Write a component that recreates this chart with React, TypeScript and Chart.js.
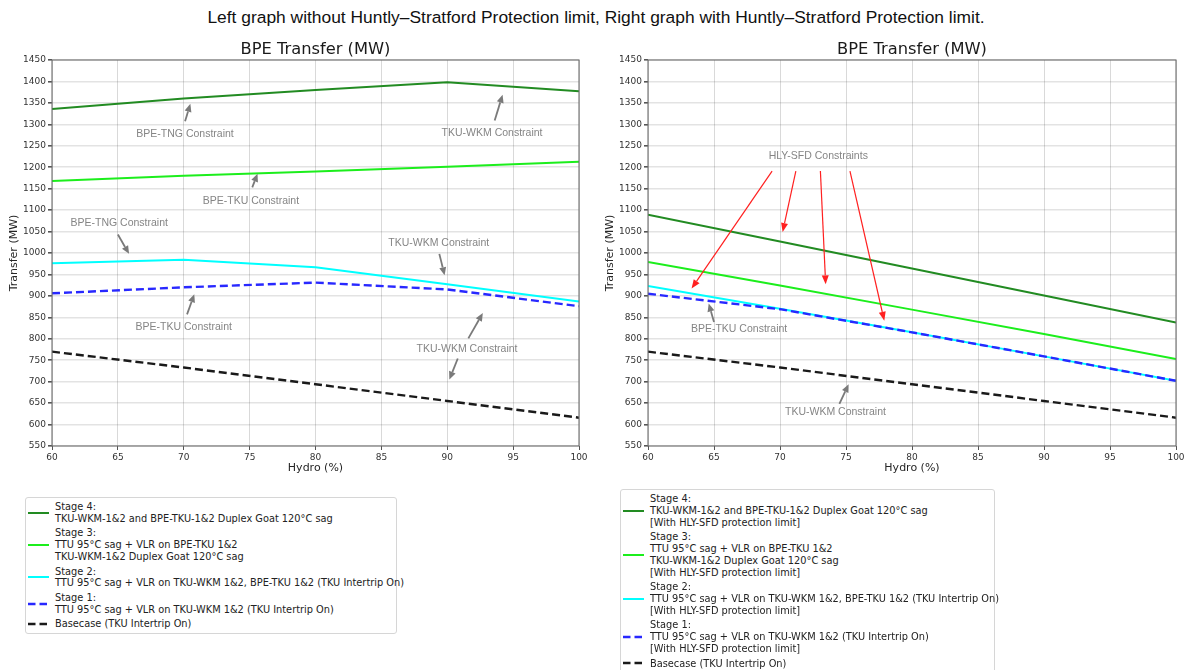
import React, { useEffect, useRef } from 'react';
import { Chart, registerables } from 'chart.js';
Chart.register(...registerables);

const pageTitle =
  'Left graph without Huntly–Stratford Protection limit, Right graph with Huntly–Stratford Protection limit.';
const chartTitle = 'BPE Transfer (MW)';
const xTitle = 'Hydro (%)';
const yTitle = 'Transfer (MW)';

const hydro = [60, 70, 80, 90, 100];
const leftStage4 = [1336, 1360, 1380, 1398, 1377];
const leftStage3 = [1168, 1180, 1190, 1201, 1213];
const leftStage2 = [976, 984, 967, 927, 887];
const leftStage1 = [906, 920, 931, 915, 876];
const leftBasecase = [770, 733, 694, 655, 616];
const rightStage4 = [1089, 1027, 964, 901, 838];
const rightStage3 = [979, 924, 868, 811, 753];
const rightStage2 = [923, 870, 815, 759, 702];
const rightStage1 = [905, 869, 815, 759, 702];
const rightBasecase = [770, 733, 694, 655, 616];

const xMin = 60;
const xMax = 100;
const xStep = 5;
const yMin = 550;
const yMax = 1450;
const yStep = 50;

// series order: Basecase, Stage 1, Stage 2, Stage 3, Stage 4
const seriesNames = ['Basecase', 'Stage 1', 'Stage 2', 'Stage 3', 'Stage 4'];
const seriesColors = ['#1a1a1a', '#2828ff', '#00ffff', '#1cee1c', '#228b22'];
const seriesDashed = [true, true, false, false, false];

const leftLegendLabels = [
  ['Stage 4:', 'TKU-WKM-1&2 and BPE-TKU-1&2 Duplex Goat 120°C sag'],
  ['Stage 3:', 'TTU 95°C sag + VLR on BPE-TKU 1&2', 'TKU-WKM-1&2 Duplex Goat 120°C sag'],
  ['Stage 2:', 'TTU 95°C sag + VLR on TKU-WKM 1&2, BPE-TKU 1&2 (TKU Intertrip On)'],
  ['Stage 1:', 'TTU 95°C sag + VLR on TKU-WKM 1&2 (TKU Intertrip On)'],
  ['Basecase (TKU Intertrip On)'],
];
const rightLegendLabels = [
  ['Stage 4:', 'TKU-WKM-1&2 and BPE-TKU-1&2 Duplex Goat 120°C sag', '[With HLY-SFD protection limit]'],
  ['Stage 3:', 'TTU 95°C sag + VLR on BPE-TKU 1&2', 'TKU-WKM-1&2 Duplex Goat 120°C sag', '[With HLY-SFD protection limit]'],
  ['Stage 2:', 'TTU 95°C sag + VLR on TKU-WKM 1&2, BPE-TKU 1&2 (TKU Intertrip On)', '[With HLY-SFD protection limit]'],
  ['Stage 1:', 'TTU 95°C sag + VLR on TKU-WKM 1&2 (TKU Intertrip On)', '[With HLY-SFD protection limit]'],
  ['Basecase (TKU Intertrip On)'],
];
const legendSeriesIndex = [4, 3, 2, 1, 0];

// annotations (data coordinates): text, x, y
const leftNoteTexts = [
  'BPE-TNG Constraint',
  'TKU-WKM Constraint',
  'BPE-TKU Constraint',
  'BPE-TNG Constraint',
  'TKU-WKM Constraint',
  'BPE-TKU Constraint',
  'TKU-WKM Constraint',
];
const leftNoteX = [70.1, 93.4, 75.1, 65.1, 89.35, 70.0, 91.5];
const leftNoteY = [1278, 1280, 1122, 1070, 1022, 828, 776];
// arrows: [fromX, fromY, toX, toY]
const leftGrayArrows = [
  [70.1, 1307, 70.5, 1348],
  [93.6, 1309, 94.2, 1369],
  [75.2, 1153, 75.6, 1185],
  [65.0, 1043, 65.85, 998],
  [89.4, 998, 89.8, 948],
  [70.25, 857, 70.8, 904],
  [91.6, 801, 92.7, 860],
  [90.8, 754, 90.16, 705],
];
const rightNoteTexts = ['HLY-SFD Constraints', 'BPE-TKU Constraint', 'TKU-WKM Constraint'];
const rightNoteX = [72.9, 66.9, 74.2];
const rightNoteY = [1225, 822, 628];
const rightGrayArrows = [
  [65.0, 839, 64.6, 882],
  [74.5, 648, 75.2, 694],
];
const rightRedArrows = [
  [69.4, 1191, 63.3, 917],
  [71.2, 1191, 70.2, 1049],
  [73.06, 1191, 73.46, 927],
  [75.3, 1191, 77.9, 842],
];

type Arrow = number[];

function drawArrow(ctx: CanvasRenderingContext2D, x1: number, y1: number, x2: number, y2: number, color: string, shaft: number, headL: number, headW: number) {
  const dx = x2 - x1;
  const dy = y2 - y1;
  const len = Math.hypot(dx, dy);
  const ux = dx / len;
  const uy = dy / len;
  const bx = x2 - ux * headL;
  const by = y2 - uy * headL;
  ctx.strokeStyle = color;
  ctx.fillStyle = color;
  ctx.lineWidth = shaft;
  ctx.beginPath();
  ctx.moveTo(x1, y1);
  ctx.lineTo(bx, by);
  ctx.stroke();
  ctx.beginPath();
  ctx.moveTo(x2, y2);
  ctx.lineTo(bx - uy * headW / 2, by + ux * headW / 2);
  ctx.lineTo(bx + uy * headW / 2, by - ux * headW / 2);
  ctx.closePath();
  ctx.fill();
}

function makeOverlay(noteTexts: string[], noteX: number[], noteY: number[], grayArrows: Arrow[], redArrows: Arrow[]) {
  return {
    id: 'overlay',
    afterDatasetsDraw(chart: any) {
      const { ctx, chartArea: a, scales } = chart;
      const sx = scales.x;
      const sy = scales.y;
      ctx.save();
      // frame
      ctx.strokeStyle = '#6e6e6e';
      ctx.lineWidth = 1.1;
      ctx.strokeRect(a.left, a.top, a.right - a.left, a.bottom - a.top);
      // title
      ctx.fillStyle = '#1a1a1a';
      ctx.font = '16.3px "DejaVu Sans"';
      ctx.textAlign = 'center';
      ctx.textBaseline = 'middle';
      ctx.fillText(chartTitle, (a.left + a.right) / 2, a.top - 10);
      // arrows
      for (const r of redArrows) {
        drawArrow(ctx, sx.getPixelForValue(r[0]), sy.getPixelForValue(r[1]), sx.getPixelForValue(r[2]), sy.getPixelForValue(r[3]), '#ff2020', 1.2, 9, 7);
      }
      for (const g of grayArrows) {
        drawArrow(ctx, sx.getPixelForValue(g[0]), sy.getPixelForValue(g[1]), sx.getPixelForValue(g[2]), sy.getPixelForValue(g[3]), '#7a7a7a', 1.8, 8, 7);
      }
      // notes
      ctx.fillStyle = '#858585';
      ctx.font = '10.5px "Liberation Sans"';
      ctx.textAlign = 'center';
      ctx.textBaseline = 'middle';
      noteTexts.forEach((t, i) => {
        ctx.fillText(t, sx.getPixelForValue(noteX[i]), sy.getPixelForValue(noteY[i]));
      });
      ctx.restore();
    },
  };
}

function buildDatasets(series: number[][]) {
  return series.map((vals, i) => ({
    label: seriesNames[i],
    data: hydro.map((h, k) => ({ x: h, y: vals[k] })),
    borderColor: seriesColors[i],
    backgroundColor: seriesColors[i],
    borderWidth: seriesDashed[i] ? 2.4 : 2,
    borderDash: seriesDashed[i] ? [8, 4] : [],
    pointRadius: 0,
    tension: 0,
    fill: false,
  }));
}

function buildOptions(padRight: number) {
  const tickFont = { family: 'DejaVu Sans', size: 9 };
  const titleFont = { family: 'DejaVu Sans', size: 11 };
  return {
    responsive: false,
    animation: false as const,
    devicePixelRatio: 1,
    layout: { padding: { top: 30, right: padRight, left: 0, bottom: 0 } },
    plugins: { legend: { display: false }, tooltip: { enabled: false }, title: { display: false } },
    scales: {
      x: {
        type: 'linear' as const,
        min: xMin,
        max: xMax,
        ticks: { stepSize: xStep, font: tickFont, color: '#333', padding: 2, maxRotation: 0, autoSkip: false, callback: (v: any) => String(v) },
        grid: { color: 'rgba(0,0,0,0.15)', lineWidth: 1, tickLength: 4, tickColor: '#555' },
        border: { display: false },
        title: { display: true, text: xTitle, font: titleFont, color: '#262626', padding: { top: 0, bottom: 15 } },
        afterFit: (s: any) => {
          s.height = 44;
        },
      },
      y: {
        type: 'linear' as const,
        min: yMin,
        max: yMax,
        ticks: { stepSize: yStep, font: tickFont, color: '#333', padding: 2, autoSkip: false, callback: (v: any) => String(v) },
        grid: { color: 'rgba(0,0,0,0.11)', lineWidth: 1.6, tickLength: 4, tickColor: '#555' },
        border: { display: false },
        title: { display: true, text: yTitle, font: titleFont, color: '#262626', padding: { top: 7.5, bottom: 0 } },
        afterFit: (s: any) => {
          s.width = 52;
        },
      },
    },
  };
}

function Legend({ left, top, width, labels }: { left: number; top: number; width: number; labels: string[][] }) {
  return (
    <div
      style={{
        position: 'absolute',
        left,
        top,
        width,
        boxSizing: 'border-box',
        border: '1px solid #d6d6d6',
        borderRadius: 3,
        background: '#fff',
        padding: '3px 0 3px 2px',
        fontFamily: '"DejaVu Sans"',
        fontSize: 9.8,
        lineHeight: '11.8px',
        color: '#222',
      }}
    >
      {labels.map((lines, i) => {
        const si = legendSeriesIndex[i];
        const dashed = seriesDashed[si];
        return (
          <div key={i} style={{ display: 'flex', alignItems: 'center', marginBottom: i < labels.length - 1 ? 2.8 : 0 }}>
            <svg width={21} height={4} style={{ flex: '0 0 21px' }}>
              <line
                x1={0}
                y1={2}
                x2={21}
                y2={2}
                stroke={seriesColors[si]}
                strokeWidth={dashed ? 2.4 : 2}
                strokeDasharray={dashed ? '7.5,4' : undefined}
              />
            </svg>
            <div style={{ marginLeft: 6, whiteSpace: 'nowrap' }}>
              {lines.map((l, k) => (
                <div key={k}>{l}</div>
              ))}
            </div>
          </div>
        );
      })}
    </div>
  );
}

export default function App() {
  const leftRef = useRef<HTMLCanvasElement>(null);
  const rightRef = useRef<HTMLCanvasElement>(null);

  useEffect(() => {
    const c1 = new Chart(leftRef.current as HTMLCanvasElement, {
      type: 'line',
      data: { datasets: buildDatasets([leftBasecase, leftStage1, leftStage2, leftStage3, leftStage4]) as any },
      options: buildOptions(17) as any,
      plugins: [makeOverlay(leftNoteTexts, leftNoteX, leftNoteY, leftGrayArrows, [])],
    });
    const c2 = new Chart(rightRef.current as HTMLCanvasElement, {
      type: 'line',
      data: { datasets: buildDatasets([rightBasecase, rightStage1, rightStage2, rightStage3, rightStage4]) as any },
      options: buildOptions(16) as any,
      plugins: [makeOverlay(rightNoteTexts, rightNoteX, rightNoteY, rightGrayArrows, rightRedArrows)],
    });
    return () => {
      c1.destroy();
      c2.destroy();
    };
  }, []);

  return (
    <div style={{ position: 'absolute', left: 0, top: 0, width: 1192, height: 670, background: '#fff', overflow: 'hidden' }}>
      <div
        style={{
          position: 'absolute',
          left: 0,
          top: 6,
          width: 1192,
          textAlign: 'center',
          fontFamily: '"Liberation Sans"',
          fontSize: 17.4,
          lineHeight: '22px',
          color: '#111',
        }}
      >
        {pageTitle}
      </div>
      <canvas ref={leftRef} width={596} height={460} style={{ position: 'absolute', left: 0, top: 30 }} />
      <canvas ref={rightRef} width={596} height={460} style={{ position: 'absolute', left: 596, top: 30 }} />
      <Legend left={25} top={497} width={372} labels={leftLegendLabels} />
      <Legend left={620} top={489} width={375} labels={rightLegendLabels} />
    </div>
  );
}
